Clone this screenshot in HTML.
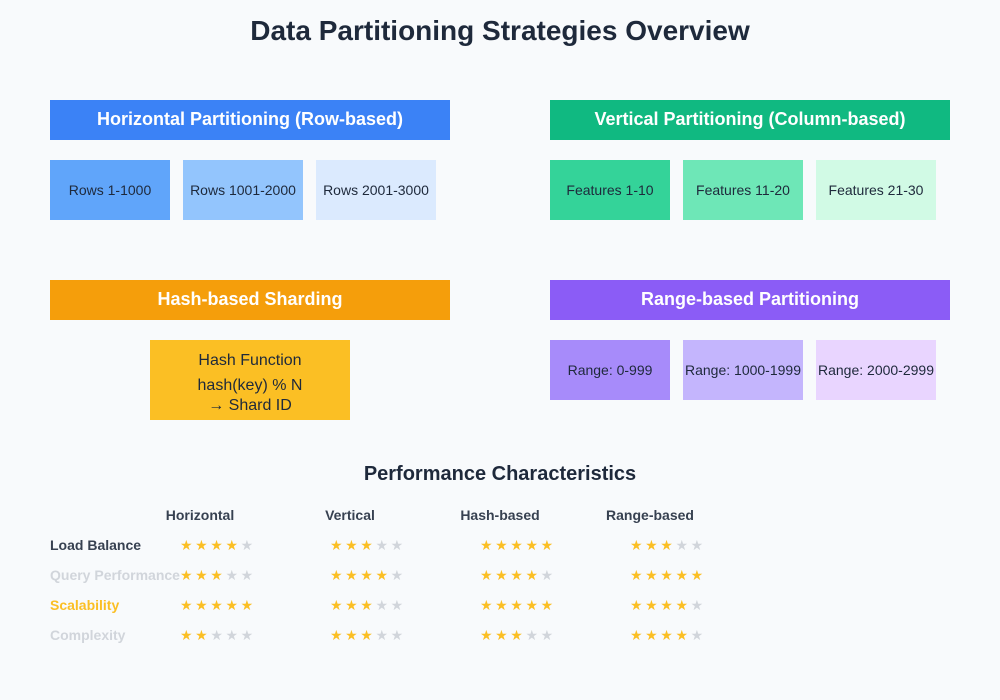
<!DOCTYPE html>
<html><head><meta charset="utf-8"><style>
html,body{margin:0;padding:0;background:#f8fafc;}
svg{display:block;font-family:"Liberation Sans",Arial,sans-serif;}
</style></head><body>
<svg width="1000" height="700" viewBox="0 0 1000 700" xmlns="http://www.w3.org/2000/svg">
<rect width="1000" height="700" fill="#f8fafc"/>
<text x="500" y="40" text-anchor="middle" font-size="28" font-weight="bold" fill="#1e293b">Data Partitioning Strategies Overview</text>

<rect x="50" y="100" width="400" height="40" fill="#3b82f6"/>
<text x="250" y="125" text-anchor="middle" font-size="18" font-weight="bold" fill="#fff">Horizontal Partitioning (Row-based)</text>
<rect x="50" y="160" width="120" height="60" fill="#60a5fa"/>
<text x="110" y="195" text-anchor="middle" font-size="14" fill="#1e293b">Rows 1-1000</text>
<rect x="183" y="160" width="120" height="60" fill="#93c5fd"/>
<text x="243" y="195" text-anchor="middle" font-size="14" fill="#1e293b">Rows 1001-2000</text>
<rect x="316" y="160" width="120" height="60" fill="#dbeafe"/>
<text x="376" y="195" text-anchor="middle" font-size="14" fill="#1e293b">Rows 2001-3000</text>

<rect x="550" y="100" width="400" height="40" fill="#10b981"/>
<text x="750" y="125" text-anchor="middle" font-size="18" font-weight="bold" fill="#fff">Vertical Partitioning (Column-based)</text>
<rect x="550" y="160" width="120" height="60" fill="#34d399"/>
<text x="610" y="195" text-anchor="middle" font-size="14" fill="#1e293b">Features 1-10</text>
<rect x="683" y="160" width="120" height="60" fill="#6ee7b7"/>
<text x="743" y="195" text-anchor="middle" font-size="14" fill="#1e293b">Features 11-20</text>
<rect x="816" y="160" width="120" height="60" fill="#d1fae5"/>
<text x="876" y="195" text-anchor="middle" font-size="14" fill="#1e293b">Features 21-30</text>

<rect x="50" y="280" width="400" height="40" fill="#f59e0b"/>
<text x="250" y="305" text-anchor="middle" font-size="18" font-weight="bold" fill="#fff">Hash-based Sharding</text>
<rect x="150" y="340" width="200" height="80" fill="#fbbf24"/>
<text x="250" y="365" text-anchor="middle" font-size="16" fill="#1e293b">Hash Function</text>
<text x="250" y="390" text-anchor="middle" font-size="16" fill="#1e293b">hash(key) % N</text>
<text x="250" y="410" text-anchor="middle" font-size="16" fill="#1e293b">→ Shard ID</text>

<rect x="550" y="280" width="400" height="40" fill="#8b5cf6"/>
<text x="750" y="305" text-anchor="middle" font-size="18" font-weight="bold" fill="#fff">Range-based Partitioning</text>
<rect x="550" y="340" width="120" height="60" fill="#a78bfa"/>
<text x="610" y="375" text-anchor="middle" font-size="14" fill="#1e293b">Range: 0-999</text>
<rect x="683" y="340" width="120" height="60" fill="#c4b5fd"/>
<text x="743" y="375" text-anchor="middle" font-size="14" fill="#1e293b">Range: 1000-1999</text>
<rect x="816" y="340" width="120" height="60" fill="#e9d5ff"/>
<text x="876" y="375" text-anchor="middle" font-size="14" fill="#1e293b">Range: 2000-2999</text>

<text x="500" y="480" text-anchor="middle" font-size="20" font-weight="bold" fill="#1e293b">Performance Characteristics</text>
<g font-size="14" font-weight="bold" fill="#374151" text-anchor="middle">
<text x="200" y="520">Horizontal</text>
<text x="350" y="520">Vertical</text>
<text x="500" y="520">Hash-based</text>
<text x="650" y="520">Range-based</text>
</g>
<g font-size="14" font-weight="bold">
<text x="50" y="550" fill="#374151">Load Balance</text>
<text x="50" y="580" fill="#d1d5db">Query Performance</text>
<text x="50" y="610" fill="#fbbf24">Scalability</text>
<text x="50" y="640" fill="#d1d5db">Complexity</text>
</g>
<g font-size="14" fill="#fbbf24" letter-spacing="2.6">
<text x="180" y="550">★★★★<tspan fill="#d1d5db">★</tspan></text>
<text x="330" y="550">★★★<tspan fill="#d1d5db">★★</tspan></text>
<text x="480" y="550">★★★★★</text>
<text x="630" y="550">★★★<tspan fill="#d1d5db">★★</tspan></text>
<text x="180" y="580">★★★<tspan fill="#d1d5db">★★</tspan></text>
<text x="330" y="580">★★★★<tspan fill="#d1d5db">★</tspan></text>
<text x="480" y="580">★★★★<tspan fill="#d1d5db">★</tspan></text>
<text x="630" y="580">★★★★★</text>
<text x="180" y="610">★★★★★</text>
<text x="330" y="610">★★★<tspan fill="#d1d5db">★★</tspan></text>
<text x="480" y="610">★★★★★</text>
<text x="630" y="610">★★★★<tspan fill="#d1d5db">★</tspan></text>
<text x="180" y="640">★★<tspan fill="#d1d5db">★★★</tspan></text>
<text x="330" y="640">★★★<tspan fill="#d1d5db">★★</tspan></text>
<text x="480" y="640">★★★<tspan fill="#d1d5db">★★</tspan></text>
<text x="630" y="640">★★★★<tspan fill="#d1d5db">★</tspan></text>
</g>
</svg>
</body></html>
